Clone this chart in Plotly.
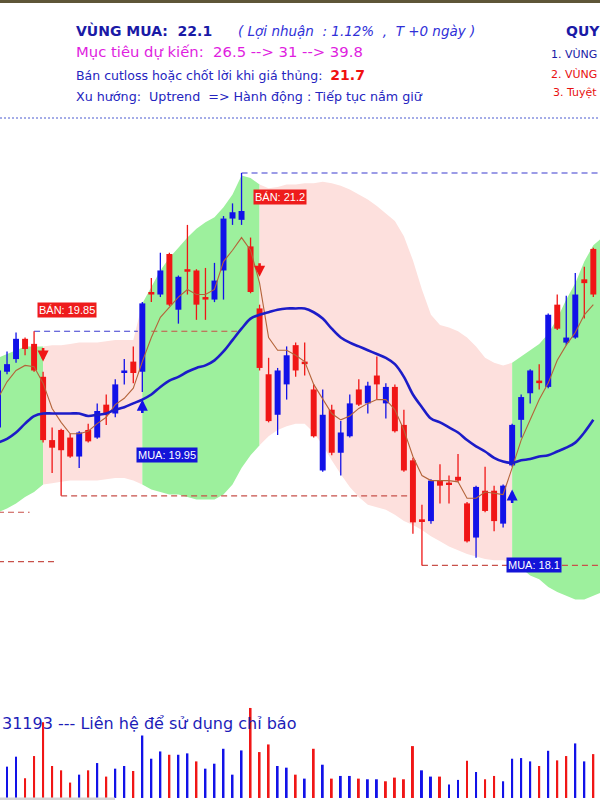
import plotly.graph_objects as go

# ---------------- daily candles (index 0 = first visible session) ----------------
open_ = [19.19, 19.63, 19.73, 19.89, 19.85, 19.59, 19.09, 19.17, 19.11, 18.96,
         19.17, 19.11, 19.37, 19.30, 19.62, 19.71, 19.63, 20.26, 20.24, 20.56,
         20.12, 20.44, 20.43, 20.22, 20.20, 20.43, 20.84, 20.83, 20.62, 20.13,
         19.61, 19.29, 19.53, 19.84, 19.71, 19.49, 18.85, 19.33, 18.99, 19.12,
         19.49, 19.38, 19.60, 19.38, 19.51, 19.21, 18.93, 18.46, 18.45, 18.77,
         18.75, 18.80, 18.59, 18.32, 18.69, 18.69, 18.43, 18.89, 19.25, 19.46,
         19.56, 19.51, 20.16, 19.86, 19.90, 20.36, 20.60]
high = [19.68, 19.79, 19.94, 19.90, 19.95, 19.63, 19.19, 19.18, 19.14, 19.16,
        19.22, 19.38, 19.45, 19.57, 19.73, 19.83, 20.18, 20.37, 20.57, 20.57,
        20.39, 20.79, 20.44, 20.45, 20.49, 20.86, 20.96, 21.20, 20.69, 20.16,
        19.74, 19.66, 19.83, 19.86, 19.86, 19.53, 19.49, 19.37, 19.24, 19.45,
        19.57, 19.55, 19.75, 19.54, 19.53, 19.33, 18.95, 18.58, 18.78, 18.90,
        18.81, 18.98, 18.60, 18.73, 18.88, 18.73, 18.74, 19.22, 19.45, 19.65,
        19.69, 20.09, 20.24, 20.23, 20.41, 20.46, 20.61]
low = [19.15, 19.61, 19.70, 19.76, 19.63, 19.07, 18.83, 18.65, 18.95, 18.87,
       19.07, 19.10, 19.21, 19.27, 19.53, 19.54, 19.47, 20.18, 20.22, 20.15,
       20.01, 20.24, 20.04, 20.04, 20.18, 20.20, 20.79, 20.79, 20.25, 19.64,
       19.23, 19.13, 19.41, 19.59, 19.60, 19.11, 18.84, 18.97, 18.81, 19.11,
       19.36, 19.30, 19.41, 19.26, 19.15, 18.84, 18.35, 18.10, 18.43, 18.59,
       18.59, 18.76, 18.28, 18.16, 18.52, 18.37, 18.40, 18.88, 19.11, 19.38,
       19.49, 19.50, 19.96, 19.84, 19.89, 20.05, 20.22]
close = [19.64, 19.69, 19.89, 19.81, 19.64, 19.09, 19.03, 19.01, 18.96, 19.15,
         19.08, 19.32, 19.29, 19.53, 19.64, 19.62, 20.17, 20.24, 20.43, 20.16,
         20.38, 20.42, 20.16, 20.20, 20.35, 20.84, 20.89, 20.90, 20.26, 19.66,
         19.24, 19.64, 19.76, 19.64, 19.69, 19.12, 19.29, 18.99, 19.15, 19.38,
         19.37, 19.52, 19.53, 19.51, 19.16, 18.85, 18.44, 18.45, 18.77, 18.73,
         18.74, 18.77, 18.29, 18.72, 18.53, 18.45, 18.73, 19.21, 19.43, 19.64,
         19.54, 20.08, 19.97, 19.90, 20.24, 20.33, 20.24]
# traded volume (thousand shares) for sessions 1..66
volume = [340, 448, 214, 455, 822, 347, 300, 167, 253, 300,
          379, 232, 318, 347, 293, 678, 426, 505, 469, 469,
          484, 397, 318, 372, 534, 253, 516, 977, 498, 581,
          347, 329, 253, 210, 534, 361, 210, 239, 239, 210,
          203, 203, 181, 221, 203, 563, 300, 232, 232, 145,
          196, 404, 282, 203, 239, 181, 426, 433, 397, 347,
          512, 408, 455, 592, 397, 476]

# moving averages
ma_slow = [19.07, 19.10, 19.15, 19.22, 19.28, 19.30, 19.30, 19.30, 19.30, 19.30,
           19.28, 19.29, 19.30, 19.33, 19.35, 19.38, 19.41, 19.45, 19.51, 19.56,
           19.59, 19.63, 19.66, 19.68, 19.72, 19.79, 19.88, 19.97, 20.05, 20.08,
           20.10, 20.12, 20.13, 20.13, 20.13, 20.10, 20.05, 19.97, 19.90, 19.86,
           19.83, 19.80, 19.77, 19.74, 19.69, 19.59, 19.45, 19.35, 19.26, 19.23,
           19.19, 19.15, 19.09, 19.04, 19.00, 18.95, 18.92, 18.91, 18.93, 18.94,
           18.96, 18.97, 19.00, 19.03, 19.07, 19.15, 19.25]
ma_fast = [19.42, 19.55, 19.64, 19.68, 19.67, 19.54, 19.34, 19.23, 19.14, 19.14,
           19.16, 19.22, 19.27, 19.37, 19.42, 19.50, 19.71, 19.90, 20.06, 20.14,
           20.22, 20.28, 20.24, 20.24, 20.28, 20.50, 20.59, 20.69, 20.59, 20.33,
           19.90, 19.80, 19.80, 19.76, 19.71, 19.53, 19.42, 19.30, 19.25, 19.28,
           19.34, 19.38, 19.41, 19.41, 19.33, 19.17, 18.96, 18.81, 18.77, 18.77,
           18.77, 18.76, 18.63, 18.63, 18.68, 18.67, 18.66, 18.87, 19.09, 19.25,
           19.41, 19.54, 19.72, 19.84, 19.94, 20.08, 20.16]

# trend band (index 0..67)
band_upper = [19.74, 19.77, 19.80, 19.83, 19.83, 19.83, 19.84, 19.84, 19.85, 19.86,
              19.86, 19.86, 19.87, 19.88, 19.88, 19.88, 20.17, 20.30, 20.43, 20.53,
              20.61, 20.69, 20.76, 20.81, 20.85, 20.93, 21.03, 21.18, 21.16, 21.11,
              21.08, 21.09, 21.11, 21.11, 21.12, 21.12, 21.13, 21.12, 21.10, 21.07,
              21.03, 20.99, 20.94, 20.88, 20.82, 20.70, 20.51, 20.28, 20.08, 20.00,
              19.98, 19.95, 19.90, 19.83, 19.74, 19.70, 19.68, 19.70, 19.75, 19.80,
              19.85, 19.93, 20.05, 20.20, 20.33, 20.50, 20.63, 20.69]
band_lower = [18.52, 18.55, 18.59, 18.64, 18.68, 18.74, 18.75, 18.76, 18.77, 18.77,
              18.77, 18.77, 18.78, 18.79, 18.79, 18.77, 18.74, 18.70, 18.68, 18.66,
              18.66, 18.64, 18.62, 18.62, 18.62, 18.66, 18.74, 18.87, 18.97, 19.05,
              19.12, 19.17, 19.20, 19.22, 19.22, 19.15, 19.05, 18.93, 18.82, 18.72,
              18.64, 18.58, 18.56, 18.54, 18.50, 18.45, 18.42, 18.38, 18.33, 18.29,
              18.25, 18.22, 18.19, 18.17, 18.15, 18.14, 18.14, 18.12, 18.08, 18.02,
              17.99, 17.93, 17.89, 17.86, 17.83, 17.83, 17.86, 17.89]

# trade signals
buy_idx = [16, 57]
buy_price = [19.95, 18.1]
sell_idx = [5, 29]
sell_price = [19.85, 21.2]

# horizontal price levels: (price, first index, last index, kind)
levels = [
    (19.95, 4, 15.5, "res"),
    (19.95, 17, 26.5, "sup"),
    (21.2, 27, 67, "res"),
    (18.65, 7, 45.7, "sup"),
    (18.1, 47, 67, "sup"),
    (18.52, 0, 3.5, "sup"),
    (18.13, 0, 6.5, "sup"),
]

# ---------------- styling ----------------
UP = "#1212e8"
DN = "#f01616"
GREEN = "#9df09d"
PINK = "#fde0dd"
W, H = 600, 800
STEP = 9.02      # pixels per session
X0 = -2.0        # pixel position of session 0

# vertical placement of price axis / label / arrow positions (price units)
Y_TOP, Y_BOT = 22.5667, 16.2467
sell_label_y = [20.12, 21.01]
buy_label_y = [18.97, 18.10]
sell_arrow_y = [19.71, 20.38]
buy_arrow_y = [19.41, 18.70]

n = len(close)
idx = list(range(n))

fig = go.Figure()
shapes = []

# trend band, coloured by the active signal (drawn under every trace)
events = sorted([(i, "buy") for i in buy_idx] + [(i, "sell") for i in sell_idx])
segments = []
start, state = 0, "buy"
for i, kind in events:
    segments.append((start, i, state))
    start, state = i, kind
segments.append((start, len(band_upper) - 1, state))
for a, b, st in segments:
    pts = [(i, band_upper[i]) for i in range(a, b + 1)] + \
          [(i, band_lower[i]) for i in range(b, a - 1, -1)]
    path = "M " + " L ".join(f"{x},{y}" for x, y in pts) + " Z"
    shapes.append(dict(type="path", xref="x", yref="y", path=path, layer="below",
                       fillcolor=GREEN if st == "buy" else PINK, line=dict(width=0)))

# price levels
for price, a, b, kind in levels:
    fig.add_trace(go.Scatter(
        x=[a, b], y=[price, price], mode="lines",
        line=dict(color="#3a3ad0" if kind == "res" else "#c8504a",
                  width=1.2, dash="6px,4px"),
        hoverinfo="skip"))

# wicks
for color, up in ((UP, True), (DN, False)):
    wx, wy = [], []
    for i in idx:
        if (close[i] >= open_[i]) == up:
            wx += [i, i, None]
            wy += [low[i], high[i], None]
    fig.add_trace(go.Scatter(x=wx, y=wy, mode="lines",
                             line=dict(color=color, width=1.3), hoverinfo="skip"))

# bodies
for color, up in ((UP, True), (DN, False)):
    bx, base, hgt = [], [], []
    for i in idx:
        if (close[i] >= open_[i]) == up:
            lo, hi = min(open_[i], close[i]), max(open_[i], close[i])
            bx.append(i)
            base.append(lo)
            hgt.append(max(hi - lo, 0.014))
    fig.add_trace(go.Bar(x=bx, y=hgt, base=base, width=0.66,
                         marker=dict(color=color, line=dict(width=0)),
                         hoverinfo="skip"))

# moving averages
fig.add_trace(go.Scatter(x=idx, y=ma_fast, mode="lines",
                         line=dict(color="#b4643a", width=1.1), hoverinfo="skip"))
fig.add_trace(go.Scatter(x=idx, y=ma_slow, mode="lines",
                         line=dict(color="#1c1cc8", width=2.6, shape="spline"),
                         hoverinfo="skip"))

# volume (colour by change of close)
vx = idx[1:]
vcol = [UP if close[i] >= close[i - 1] else DN for i in vx]
fig.add_trace(go.Bar(x=vx, y=volume, width=0.22, yaxis="y2",
                     marker=dict(color=vcol, line=dict(width=0)), hoverinfo="skip"))

annotations = []

# signal arrows and labels
for i, p, ly, ay in zip(sell_idx, sell_price, sell_label_y, sell_arrow_y):
    annotations.append(dict(x=i, y=ay, xref="x", yref="y", text="", showarrow=True,
                            ax=0, ay=-15, arrowhead=2, arrowsize=0.85, arrowwidth=2.6,
                            arrowcolor=DN))
    annotations.append(dict(x=i - 0.7, y=ly, xref="x", yref="y", xanchor="left",
                            yanchor="middle", showarrow=False,
                            text=f"BÁN: {p:g}", bgcolor="#ee1c1c", borderpad=1,
                            font=dict(family="Liberation Sans", size=11, color="white")))
for i, p, ly, ay in zip(buy_idx, buy_price, buy_label_y, buy_arrow_y):
    annotations.append(dict(x=i, y=ay, xref="x", yref="y", text="", showarrow=True,
                            ax=0, ay=15, arrowhead=2, arrowsize=0.85, arrowwidth=2.6,
                            arrowcolor=UP))
    annotations.append(dict(x=i - 0.7, y=ly, xref="x", yref="y", xanchor="left",
                            yanchor="middle", showarrow=False,
                            text=f"MUA: {p:g}", bgcolor="#1414d8", borderpad=1,
                            font=dict(family="Liberation Sans", size=11, color="white")))


def note(x, y, text, size, color, anchor="left", family="DejaVu Sans"):
    annotations.append(dict(x=x / W, y=1 - y / H, xref="paper", yref="paper",
                            xanchor=anchor, yanchor="middle", showarrow=False,
                            text=text, font=dict(family=family, size=size, color=color)))


NB = "\u00a0"
note(74, 31, f"<b>VÙNG MUA:{NB}{NB}22.1</b>", 14, "#1a1aa6")
note(236, 31, f"<i>( Lợi nhuận{NB}{NB}: 1.12%{NB}{NB},{NB}{NB}T +0 ngày )</i>", 13.5, "#3030d8")
note(564, 31, "<b>QUY</b>", 14, "#1a1aa6")
note(74, 52, f"Mục tiêu dự kiến:{NB}{NB}26.5 --> 31 --> 39.8", 14.8, "#e01ee0")
note(74, 75, f"Bán cutloss hoặc chốt lời khi giá thủng:{NB}{NB}"
             f"<b><span style='color:#f01010;font-size:14px'>21.7</span></b>", 12.5, "#2424c0")
note(74, 97, f"Xu hướng:{NB}{NB}Uptrend{NB}{NB}=> Hành động : Tiếp tục nắm giữ", 12.7, "#2424c0")
note(599, 55, "1. VÙNG", 11, "#1a1aa6", anchor="right")
note(599, 74, "2. VÙNG", 11, "#e81010", anchor="right")
note(599, 92, "3. Tuyệt", 11, "#e81010", anchor="right")
note(0, 723, "31193 --- Liên hệ để sử dụng chỉ báo", 16, "#1c1cb8")

shapes += [
    dict(type="line", xref="paper", yref="paper", x0=0, x1=1,
         y0=1 - 118 / H, y1=1 - 118 / H, line=dict(color="#4a5ad0", width=1, dash="2px,2px")),
    dict(type="rect", xref="paper", yref="paper", x0=0, x1=1, y0=1 - 3 / H, y1=1,
         fillcolor="#5e5638", line=dict(width=0)),
    dict(type="rect", xref="paper", yref="paper", x0=0, x1=115 / W, y0=0, y1=2.5 / H,
         fillcolor="#d4d4d4", line=dict(width=0)),
]

fig.update_layout(
    width=W, height=H, margin=dict(l=0, r=0, t=0, b=0),
    paper_bgcolor="white", plot_bgcolor="white",
    showlegend=False, barmode="overlay",
    xaxis=dict(range=[(0 - X0) / STEP, (W - X0) / STEP], visible=False, fixedrange=True),
    yaxis=dict(range=[Y_BOT, Y_TOP], visible=False, fixedrange=True),
    yaxis2=dict(range=[-22, 8660], overlaying="y", visible=False, fixedrange=True),
    annotations=annotations, shapes=shapes,
)

fig.write_html("out.html")
